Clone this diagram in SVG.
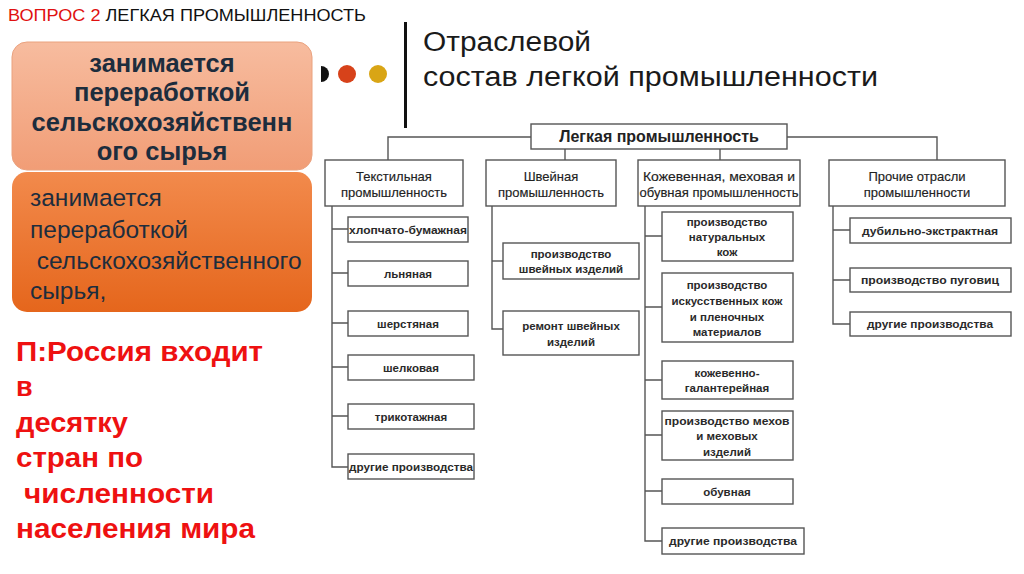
<svg xmlns="http://www.w3.org/2000/svg" width="1024" height="574" viewBox="0 0 1024 574">
<defs>
<linearGradient id="g1" x1="0" y1="0" x2="0" y2="1"><stop offset="0" stop-color="#f7bc9f"/><stop offset="1" stop-color="#f19d76"/></linearGradient>
<linearGradient id="g2" x1="0" y1="0" x2="0" y2="1"><stop offset="0" stop-color="#f28a4c"/><stop offset="1" stop-color="#e5661c"/></linearGradient>
<style>
.bx{fill:#fff;stroke:#555;stroke-width:1.4}
.ln{fill:none;stroke:#555;stroke-width:1.4}
.t1{font-family:"Liberation Sans",Arial,sans-serif;font-size:13px;fill:#222;text-anchor:middle;stroke:#222;stroke-width:0.15}
.t2{font-family:"Liberation Sans",Arial,sans-serif;font-size:11.5px;font-weight:bold;fill:#2a2a2a;text-anchor:middle}
.red{font-family:"Liberation Sans",Arial,sans-serif;font-size:27px;font-weight:bold;fill:#ee1111}
</style>
</defs>
<rect width="1024" height="574" fill="#fff"/>
<text x="8" y="21" font-family="Liberation Sans, Arial, sans-serif" font-size="17" textLength="358" lengthAdjust="spacingAndGlyphs"><tspan fill="#e01010">ВОПРОС 2</tspan><tspan fill="#111"> ЛЕГКАЯ ПРОМЫШЛЕННОСТЬ</tspan></text>

<g id="box1">
<rect x="12" y="42" width="300" height="128" rx="15" fill="url(#g1)" stroke="#eaa27f" stroke-width="1"/>
<g font-family="Liberation Sans, Arial, sans-serif" font-size="25.5" font-weight="bold" fill="#1d2d3d" text-anchor="middle">
<text x="162" y="72">занимается</text>
<text x="162" y="101">переработкой</text>
<text x="162" y="131">сельскохозяйственн</text>
<text x="162" y="160">ого сырья</text>
</g>
</g>
<g id="box2">
<rect x="12" y="172" width="300" height="140" rx="15" fill="url(#g2)"/>
<g font-family="Liberation Sans, Arial, sans-serif" font-size="24.5" fill="#1d2d3d">
<text x="30" y="206">занимается</text>
<text x="30" y="238">переработкой</text>
<text x="30" y="269" xml:space="preserve"> сельскохозяйственного</text>
<text x="30" y="299">сырья,</text>
</g>
</g>
<g id="note">
<text class="red" x="16" y="361" textLength="247" lengthAdjust="spacingAndGlyphs">П:Россия входит</text>
<text class="red" x="16" y="396">в</text>
<text class="red" x="16" y="432" textLength="112" lengthAdjust="spacingAndGlyphs">десятку</text>
<text class="red" x="16" y="467" textLength="127" lengthAdjust="spacingAndGlyphs">стран по</text>
<text class="red" x="24" y="503" textLength="190" lengthAdjust="spacingAndGlyphs">численности</text>
<text class="red" x="16" y="538" textLength="239" lengthAdjust="spacingAndGlyphs">населения мира</text>
</g>
<g id="deco">
<path d="M321 66 A8 8 0 0 1 321 82 Z" fill="#111"/>
<circle cx="347" cy="74" r="9" fill="#d7421a"/>
<circle cx="378" cy="74" r="9" fill="#d9a515"/>
<rect x="404" y="22" width="3" height="106" fill="#111"/>
</g>
<g id="title" font-family="Liberation Sans, Arial, sans-serif" font-size="27" fill="#1a1a1a">
<text x="423" y="51" textLength="168" lengthAdjust="spacingAndGlyphs">Отраслевой</text>
<text x="423" y="86" textLength="455" lengthAdjust="spacingAndGlyphs">состав легкой промышленности</text>
</g>

<g id="connectors" class="ln">
<path d="M531 137 H388 V160"/>
<path d="M787 137 H937 V160"/>
<path d="M565 149 V160"/>
<path d="M720 149 V160"/>
<path d="M332 206 V467 H348"/>
<path d="M332 229 H348 M332 273 H348 M332 323 H348 M332 367 H348 M332 416 H348"/>
<path d="M492 206 V329 H503"/>
<path d="M492 261 H503"/>
<path d="M645 206 V541 H662"/>
<path d="M645 236 H662 M645 307 H662 M645 380 H662 M645 435 H662 M645 491 H662"/>
<path d="M833 206 V324 H850"/>
<path d="M833 230 H850 M833 280 H850"/>
</g>

<g id="root">
<rect class="bx" x="531" y="124" width="256" height="25"/>
<text x="659" y="142" font-family="Liberation Sans, Arial, sans-serif" font-size="16" font-weight="bold" fill="#222" text-anchor="middle">Легкая промышленность</text>
</g>
<g id="textile">
<rect class="bx" x="325" y="160" width="138" height="46"/>
<text class="t1" x="394" y="181">Текстильная</text>
<text class="t1" x="394" y="197">промышленность</text>
</g>
<g id="sewing">
<rect class="bx" x="486" y="160" width="130" height="46"/>
<text class="t1" x="551" y="181">Швейная</text>
<text class="t1" x="551" y="197">промышленность</text>
</g>
<g id="leather">
<rect class="bx" x="638" y="160" width="162" height="46"/>
<text class="t1" x="719" y="181" textLength="152" lengthAdjust="spacingAndGlyphs">Кожевенная, меховая и</text>
<text class="t1" x="719" y="197" textLength="159" lengthAdjust="spacingAndGlyphs">обувная промышленность</text>
</g>
<g id="other">
<rect class="bx" x="829" y="160" width="176" height="46"/>
<text class="t1" x="917" y="181">Прочие отрасли</text>
<text class="t1" x="917" y="197">промышленности</text>
</g>

<g id="t-cotton"><rect class="bx" x="348" y="217" width="120" height="25"/><text class="t2" x="408" y="234" textLength="118" lengthAdjust="spacingAndGlyphs">хлопчато-бумажная</text></g>
<g id="t-linen"><rect class="bx" x="348" y="261" width="120" height="25"/><text class="t2" x="408" y="278">льняная</text></g>
<g id="t-wool"><rect class="bx" x="348" y="311" width="120" height="25"/><text class="t2" x="408" y="328">шерстяная</text></g>
<g id="t-silk"><rect class="bx" x="348" y="355" width="126" height="25"/><text class="t2" x="411" y="372">шелковая</text></g>
<g id="t-knit"><rect class="bx" x="348" y="404" width="126" height="25"/><text class="t2" x="411" y="421">трикотажная</text></g>
<g id="t-other"><rect class="bx" x="348" y="454" width="126" height="25"/><text class="t2" x="411" y="471" textLength="124" lengthAdjust="spacingAndGlyphs">другие производства</text></g>

<g id="s-prod"><rect class="bx" x="503" y="243" width="136" height="36"/><text class="t2" x="571" y="258">производство</text><text class="t2" x="571" y="273">швейных изделий</text></g>
<g id="s-repair"><rect class="bx" x="503" y="311" width="136" height="44"/><text class="t2" x="571" y="330">ремонт швейных</text><text class="t2" x="571" y="346">изделий</text></g>

<g id="l-nat"><rect class="bx" x="662" y="212" width="131" height="49"/><text class="t2" x="727" y="226">производство</text><text class="t2" x="727" y="241">натуральных</text><text class="t2" x="727" y="256">кож</text></g>
<g id="l-art"><rect class="bx" x="662" y="273" width="131" height="69"/><text class="t2" x="727" y="289">производство</text><text class="t2" x="727" y="305">искусственных кож</text><text class="t2" x="727" y="321">и пленочных</text><text class="t2" x="727" y="336">материалов</text></g>
<g id="l-gal"><rect class="bx" x="662" y="361" width="131" height="38"/><text class="t2" x="727" y="377">кожевенно-</text><text class="t2" x="727" y="392">галантерейная</text></g>
<g id="l-fur"><rect class="bx" x="662" y="411" width="131" height="49"/><text class="t2" x="727" y="425" textLength="125" lengthAdjust="spacingAndGlyphs">производство мехов</text><text class="t2" x="727" y="440">и меховых</text><text class="t2" x="727" y="456">изделий</text></g>
<g id="l-shoe"><rect class="bx" x="662" y="479" width="131" height="25"/><text class="t2" x="727" y="496">обувная</text></g>
<g id="l-other"><rect class="bx" x="662" y="528" width="142" height="26"/><text class="t2" x="733" y="545" textLength="128" lengthAdjust="spacingAndGlyphs">другие производства</text></g>

<g id="o-tan"><rect class="bx" x="850" y="218" width="161" height="25"/><text class="t2" x="930" y="235" textLength="136" lengthAdjust="spacingAndGlyphs">дубильно-экстрактная</text></g>
<g id="o-btn"><rect class="bx" x="850" y="268" width="161" height="24"/><text class="t2" x="930" y="284" textLength="138" lengthAdjust="spacingAndGlyphs">производство пуговиц</text></g>
<g id="o-other"><rect class="bx" x="850" y="312" width="161" height="24"/><text class="t2" x="930" y="328" textLength="126" lengthAdjust="spacingAndGlyphs">другие производства</text></g>
</svg>
